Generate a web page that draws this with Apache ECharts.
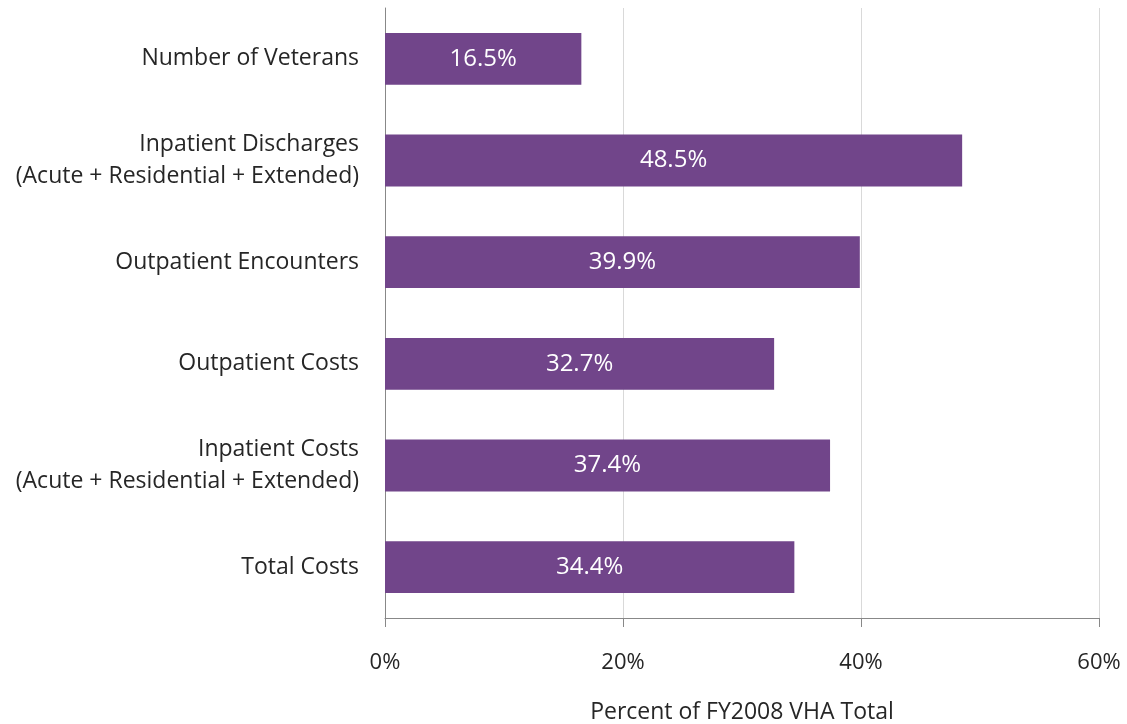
<!DOCTYPE html>
<html>
<head>
<meta charset="utf-8">
<script src="https://cdn.jsdelivr.net/npm/echarts@6/dist/echarts.min.js"></script>
<style>
  html, body { margin: 0; padding: 0; background: #fff; }
  #chart { width: 1127px; height: 724px; }
</style>
</head>
<body>
<div id="chart"></div>
<script>
const categories = [
  'Number of Veterans',
  'Inpatient Discharges\n(Acute + Residential + Extended)',
  'Outpatient Encounters',
  'Outpatient Costs',
  'Inpatient Costs\n(Acute + Residential + Extended)',
  'Total Costs',
];
const percentValues = [16.5, 48.5, 39.9, 32.7, 37.4, 34.4];
const xTicks = [0, 20, 40, 60];

const font = 'Open Sans, Noto Sans, sans-serif';
const chart = echarts.init(document.getElementById('chart'));

chart.setOption({
  animation: false,
  grid: { left: 385, right: 28, top: 8, bottom: 106, outerBoundsMode: 'none' },
  xAxis: {
    type: 'value',
    min: xTicks[0],
    max: xTicks[xTicks.length - 1],
    interval: 20,
    name: 'Percent of FY2008 VHA Total',
    nameLocation: 'middle',
    nameGap: 83,
    nameTextStyle: { fontFamily: font, fontSize: 23, color: '#262626' },
    axisLine: { show: true, lineStyle: { color: '#888', width: 1 } },
    axisTick: { show: true, length: 9, lineStyle: { color: '#888' } },
    axisLabel: {
      formatter: '{value}%',
      margin: 34,
      fontFamily: font,
      fontSize: 22,
      color: '#262626',
    },
    splitLine: { show: true, lineStyle: { color: '#d9d9d9', width: 1 } },
  },
  yAxis: {
    type: 'category',
    data: categories,
    inverse: true,
    axisLine: { show: true, lineStyle: { color: '#888', width: 1 } },
    axisTick: { show: false },
    axisLabel: {
      margin: 26,
      padding: [3, 0, 0, 0],
      fontFamily: font,
      fontSize: 23,
      lineHeight: 32,
      color: '#262626',
      align: 'right',
    },
  },
  series: [
    {
      type: 'bar',
      data: percentValues,
      barWidth: '51%',
      itemStyle: { color: '#71458a' },
      label: {
        show: true,
        position: 'inside',
        formatter: (p) => p.value.toFixed(1) + '%',
        fontFamily: font,
        fontSize: 24,
        color: '#fff',
      },
    },
  ],
});
</script>
</body>
</html>
